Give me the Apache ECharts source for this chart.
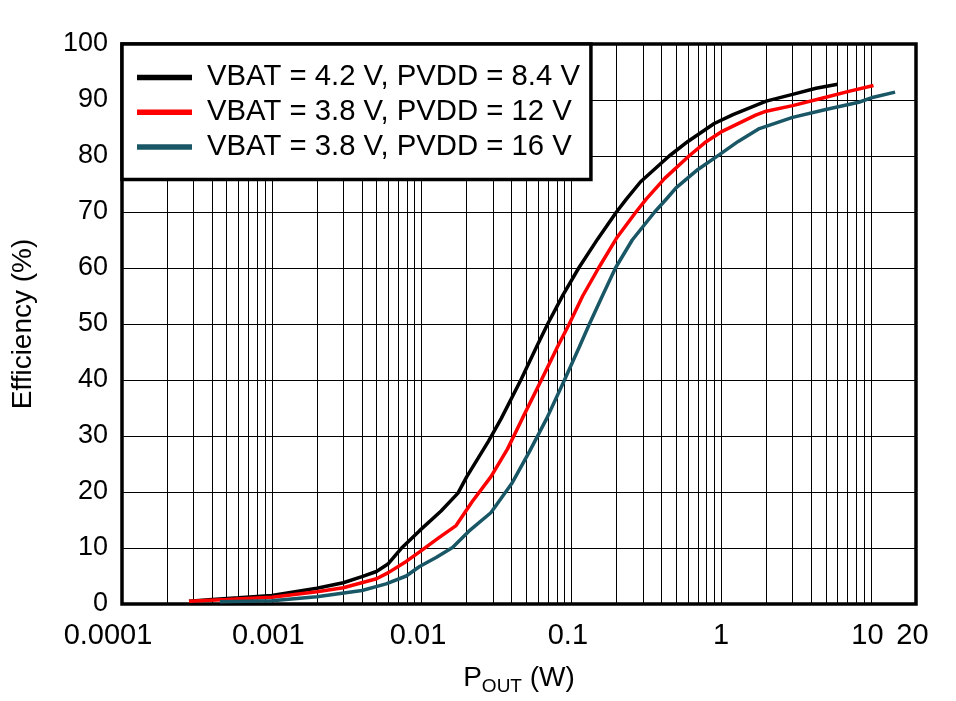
<!DOCTYPE html>
<html>
<head>
<meta charset="utf-8">
<script src="https://cdn.jsdelivr.net/npm/echarts@6/dist/echarts.min.js"></script>
<style>
html,body{margin:0;padding:0;background:#fff;}
#chart{width:956px;height:701px;}
</style>
</head>
<body>
<div id="chart"></div>
<script>
// Series names
const seriesNames = ['VBAT = 4.2 V, PVDD = 8.4 V', 'VBAT = 3.8 V, PVDD = 12 V', 'VBAT = 3.8 V, PVDD = 16 V'];
const seriesColors = ['#000000', '#ff0000', '#1a5766'];

// [P_OUT (W), Efficiency (%)]
const vbat42_pvdd84 = [
  [0.00028,0.5],[0.0004,0.8],[0.0006,1.1],[0.001,1.5],[0.002,2.8],[0.003,3.8],[0.004,4.9],
  [0.005,5.8],[0.006,7.2],[0.0073,9.9],[0.0097,13.1],[0.0135,16.6],[0.0175,19.8],[0.02,22.7],
  [0.028,29.1],[0.034,33.1],[0.046,40],[0.0585,45.9],[0.0695,50],[0.088,55.2],[0.112,60],
  [0.15,65.2],[0.2,70],[0.233,72.3],[0.29,75.4],[0.45,80],[0.6,82.6],[0.9,85.8],[1.2,87.4],
  [2,89.8],[3,91.0],[4.3,92.1],[6.0,92.8]
];
const vbat38_pvdd12 = [
  [0.00028,0.5],[0.0005,0.8],[0.001,1.2],[0.002,2.2],[0.003,2.9],[0.005,4.5],[0.006,5.6],
  [0.0079,7.6],[0.0097,9.3],[0.013,11.8],[0.017,14.0],[0.0218,18.3],[0.029,22.7],[0.0375,27.7],
  [0.047,33.1],[0.0631,40],[0.0807,45.9],[0.0968,50],[0.119,55],[0.152,60],[0.2,65.3],[0.27,70],
  [0.316,72.3],[0.42,76.0],[0.61,80],[0.78,82.4],[1.0,84.3],[1.7,87.3],[2,88.0],
  [3,89.0],[5,90.5],[7,91.5],[10.4,92.6]
];
const vbat38_pvdd16 = [
  [0.00045,0.4],[0.001,0.6],[0.002,1.3],[0.004,2.4],[0.0058,3.6],[0.0079,5.0],[0.0097,6.7],
  [0.0125,8.3],[0.0161,10.1],[0.0207,13.0],[0.029,16.3],[0.04,21.5],[0.0525,27.2],[0.0684,33.1],
  [0.09,40],[0.113,45.9],[0.132,50],[0.161,55],[0.197,60],[0.255,65],[0.36,70],[0.437,72.5],
  [0.5,74.3],[0.7,77.6],[0.98,80.3],[1.3,82.6],[1.8,84.9],[3,86.9],[5,88.3],[8.3,89.6],
  [10.4,90.5],[14.5,91.4]
];

// Axis labels
const xTickValues = [0.0001, 0.001, 0.01, 0.1, 1, 10, 20];
const xTickLabels = ['0.0001', '0.001', '0.01', '0.1', '1', '10', '20'];
const xMin = 0.0001, xMax = 20;
const yMin = 0, yMax = 100, yStep = 10;

// Grid line positions: 1..9 x each decade, plus the max
const gridValues = [];
for (let e = -4; e <= 1; e++) {
  for (let m = 1; m <= 9; m++) {
    const v = parseFloat((m * Math.pow(10, e)).toPrecision(6));
    if (v >= xMin && v <= xMax) gridValues.push(v);
  }
}
gridValues.push(xMax);

const FONT = '"Liberation Sans", Arial, sans-serif';
const chart = echarts.init(document.getElementById('chart'), null, {renderer: 'canvas'});

const series = [vbat42_pvdd84, vbat38_pvdd12, vbat38_pvdd16].map((d, i) => ({
  name: seriesNames[i],
  type: 'line',
  data: d,
  symbol: 'none',
  showSymbol: false,
  smooth: false,
  lineStyle: {color: seriesColors[i], width: 3.5},
  itemStyle: {color: seriesColors[i]},
  z: 3 + i,
  animation: false
}));

const labelStyle = {fontFamily: FONT, fontSize: 29, color: '#000'};

chart.setOption({
  animation: false,
  backgroundColor: '#fff',
  grid: {
    left: 122, top: 44, right: 40, bottom: 95,
    show: true, borderColor: '#000', borderWidth: 3.5, backgroundColor: 'transparent',
    containLabel: false
  },
  legend: {
    orient: 'vertical',
    left: 122, top: 44,
    padding: [16, 11, 15, 15],
    itemGap: 0,
    itemWidth: 55,
    itemHeight: 14,
    backgroundColor: '#fff',
    borderColor: '#000',
    borderWidth: 3.5,
    borderRadius: 0,
    textStyle: {fontFamily: FONT, fontSize: 29.3, color: '#000', lineHeight: 34.8, padding: [0, 0, 0, 10]},
    data: seriesNames.map((n, i) => ({name: n, icon: 'path://M0,0 L10,0 L10,1 L0,1 Z', itemStyle: {color: seriesColors[i]}})),
    z: 10
  },
  xAxis: {
    type: 'log',
    logBase: 10,
    min: xMin,
    max: xMax,
    name: '{p|P}{s|OUT}{p| (W)}',
    nameLocation: 'middle',
    nameGap: 58,
    nameTextStyle: {
      rich: {
        p: {fontFamily: FONT, fontSize: 28, color: '#000', verticalAlign: 'bottom', lineHeight: 30},
        s: {fontFamily: FONT, fontSize: 19, color: '#000', verticalAlign: 'bottom', lineHeight: 22, padding: [0, 0, -4, 0]}
      }
    },
    axisLine: {show: false},
    axisTick: {show: false, customValues: gridValues},
    axisLabel: {
      customValues: xTickValues,
      fontFamily: FONT, fontSize: 29, color: '#000', margin: 17,
      rich: {
        f: Object.assign({padding: [0, 28, 0, 0]}, labelStyle),
        n: Object.assign({padding: [0, 7, 0, 0]}, labelStyle),
        c: Object.assign({padding: [0, 0, 0, 0]}, labelStyle)
      },
      formatter: function (v) {
        const idx = xTickValues.findIndex(t => Math.abs(Math.log10(t) - Math.log10(v)) < 1e-6);
        if (idx < 0) return '';
        const key = idx === 0 ? 'f' : (xTickLabels[idx] === '1' ? 'c' : 'n');
        return '{' + key + '|' + xTickLabels[idx] + '}';
      }
    },
    splitLine: {show: true, lineStyle: {color: '#000', width: 1}},
    minorTick: {show: false},
    minorSplitLine: {show: false}
  },
  yAxis: {
    type: 'value',
    min: yMin, max: yMax, interval: yStep,
    name: 'Efficiency (%)',
    nameLocation: 'middle',
    nameGap: 85,
    nameTextStyle: {fontFamily: FONT, fontSize: 28, color: '#000'},
    axisLine: {show: false},
    axisTick: {show: false},
    axisLabel: {fontFamily: FONT, fontSize: 27, color: '#000', margin: 14},
    splitLine: {show: true, lineStyle: {color: '#000', width: 1}}
  },
  series: series
});
</script>
</body>
</html>
